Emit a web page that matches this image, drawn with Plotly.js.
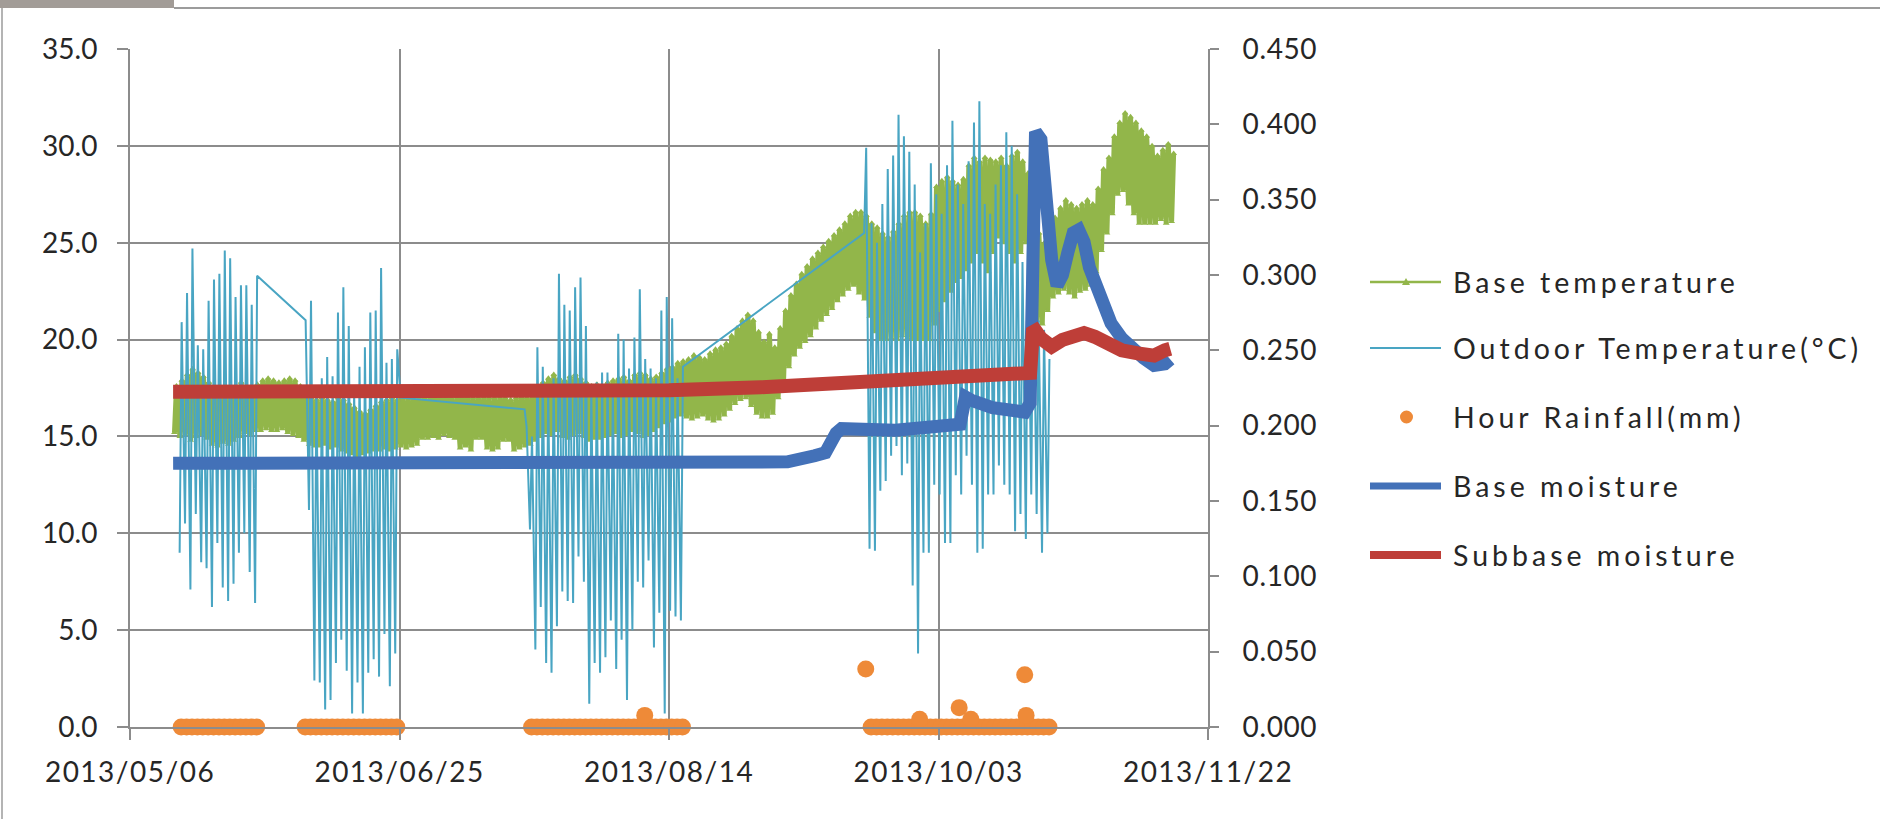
<!DOCTYPE html>
<html>
<head>
<meta charset="utf-8">
<script src="https://cdn.plot.ly/plotly-3.0.1.min.js"></script>
<style>
html,body{margin:0;padding:0;background:#fff;}
#chart{width:1880px;height:819px;}
.legtext text{letter-spacing:4px;}
#chart .xtick text{letter-spacing:1.5px;}
#chart .y2tick text{letter-spacing:0.6px;}
</style>
</head>
<body>
<div id="chart"></div>
<script>
// ---------------- Outdoor temperature (°C): daily min / max per logging period ----------------
const outP1Start = '2013-05-15';
const outP1Min = [9.0, 10.5, 7.1, 11.0, 8.5, 8.2, 6.2, 9.5, 7.2, 6.5, 7.4, 9.0, 10.0, 8.0, 6.4];
const outP1Max = [20.9, 22.4, 24.7, 19.7, 19.5, 22.0, 23.1, 23.4, 24.6, 24.2, 22.2, 22.8, 22.8, 21.8, 23.3];

const outP2Start = '2013-06-07';
const outP2Min = [null, 11.2, 2.4, 2.3, 0.9, 1.4, 3.3, 4.5, 2.9, 0.7, 2.3, 0.7, 2.8, 3.5, 2.6, 4.8, 2.1, 3.8, 17.0];
const outP2Max = [21.0, 22.0, 17.5, 18.0, 19.1, 18.1, 21.4, 22.7, 20.7, 17.5, 18.6, 19.6, 21.4, 21.5, 23.7, 18.8, 19.0, 19.5, null];

const outP3Start = '2013-07-18';
const outP3Min = [16.4, 10.2, 4.0, 6.2, 3.3, 2.8, 5.2, 7.0, 6.5, 6.4, 8.8, 7.5, 1.2, 3.3, 2.8, 3.6, 5.5, 3.0, 4.5, 1.4, 5.0, 7.5, 7.2, 8.6, 4.1, 5.9, 0.7, 6.0, 5.7, 5.5];
const outP3Max = [15.5, 15.0, 19.6, 18.6, 17.5, 18.0, 23.4, 21.8, 21.5, 22.7, 23.2, 20.7, 17.5, 17.8, 18.3, 18.3, 17.5, 20.3, 20.0, 18.5, 20.1, 22.6, 19.0, 18.5, 18.0, 21.5, 22.2, 21.1, 18.0, 18.6];

const outP4Start = '2013-09-19';
const outP4Min = [25.5, 9.2, 9.1, 12.2, 12.7, 14.0, 14.5, 13.0, 13.6, 7.3, 3.8, 9.0, 9.0, 12.5, 12.0, 9.5, 9.5, 13.0, 12.0, 14.0, 12.5, 9.0, 9.2, 12.0, 12.0, 13.5, 12.5, 12.0, 10.1, 11.0, 9.7, 12.0, 11.0, 9.0, 10.0];
const outP4Max = [29.9, 26.0, 25.0, 27.0, 28.8, 29.5, 31.6, 30.5, 29.7, 28.0, 24.5, 26.0, 29.1, 27.5, 26.5, 29.0, 31.3, 28.0, 27.0, 29.2, 31.2, 32.3, 27.0, 26.5, 28.0, 29.0, 30.7, 30.0, 27.5, 24.0, 25.0, 24.6, 21.0, 20.5, 19.0];

// ---------------- Base temperature (°C): daily min / max per month ----------------
const baseMayStart = '2013-05-14';
const baseMayMax = [17.6, 17.9, 18.2, 18.5, 18.3, 18.1, 17.8, 17.5, 17.4, 17.6, 17.3, 17.5, 17.8, 17.6, 17.5, 17.7, 17.9, 18.0];
const baseMayMin = [15.2, 15.0, 15.1, 14.8, 15.0, 15.1, 14.9, 14.6, 14.5, 14.7, 14.6, 14.8, 15.0, 15.2, 15.1, 15.3, 15.3, 15.4];
const baseJunStart = '2013-06-01';
const baseJunMax = [17.9, 17.8, 17.9, 18.0, 17.9, 17.6, 17.2, 17.0, 16.9, 17.0, 16.9, 16.8, 17.0, 16.9, 16.7, 16.5, 16.3, 16.2, 16.4, 16.6, 16.8, 16.9, 17.0, 16.9, 17.0, 17.0, 17.0, 17.1, 17.0, 17.1];
const baseJunMin = [15.3, 15.3, 15.4, 15.2, 15.1, 15.0, 14.8, 14.6, 14.5, 14.5, 14.6, 14.4, 14.5, 14.3, 14.2, 14.1, 14.0, 14.1, 14.2, 14.3, 14.3, 14.4, 14.3, 14.4, 14.5, 14.4, 14.5, 14.6, 14.9, 14.9];
const baseJulStart = '2013-07-01';
const baseJulMax = [17.2, 17.1, 17.2, 17.0, 17.1, 17.2, 17.1, 17.0, 17.0, 17.1, 17.0, 17.0, 17.1, 17.0, 16.9, 17.0, 17.1, 17.0, 17.2, 17.5, 17.8, 18.0, 18.2, 18.0, 17.9, 18.1, 18.2, 18.0, 17.8, 17.6, 17.7];
const baseJulMin = [15.0, 14.9, 15.1, 15.0, 14.9, 14.4, 14.5, 14.3, 14.9, 14.9, 14.4, 14.3, 14.4, 14.8, 14.8, 14.3, 14.4, 14.5, 14.6, 14.8, 15.0, 15.2, 15.1, 15.3, 15.0, 14.9, 15.1, 15.2, 15.0, 14.8, 14.9];
const baseAugStart = '2013-08-01';
const baseAugMax = [17.6, 17.8, 17.9, 18.0, 18.1, 17.9, 18.2, 18.3, 18.2, 18.0, 18.1, 18.3, 18.5, 18.6, 18.8, 18.9, 19.0, 19.2, 19.1, 19.0, 19.3, 19.5, 19.6, 19.8, 20.2, 20.6, 21.0, 21.3, 21.0, 20.4, 19.9];
const baseAugMin = [14.9, 15.0, 15.1, 15.2, 15.0, 15.1, 15.3, 15.2, 15.0, 15.1, 15.3, 15.5, 15.7, 15.8, 16.0, 16.1, 16.0, 15.9, 16.0, 16.1, 15.9, 15.8, 15.9, 16.1, 16.4, 16.7, 16.9, 17.0, 16.6, 16.2, 16.0];
const baseSepStart = '2013-09-01';
const baseSepMax = [20.3, 19.6, 20.6, 21.5, 22.3, 22.9, 23.4, 23.8, 24.2, 24.5, 24.8, 25.1, 25.4, 25.7, 26.0, 26.4, 26.6, 26.6, 26.4, 26.0, 25.8, 25.5, 25.3, 25.6, 26.0, 26.4, 26.6, 26.6, 26.4, 26.0];
const baseSepMin = [16.0, 16.2, 17.0, 17.8, 18.6, 19.2, 19.6, 19.9, 20.2, 20.6, 21.0, 21.3, 21.6, 22.0, 22.3, 22.6, 22.8, 22.4, 22.1, 21.2, 20.4, 20.0, 20.0, 20.1, 20.0, 20.2, 20.1, 20.0, 20.0, 20.0];
const baseOctStart = '2013-10-01';
const baseOctMax = [26.5, 27.9, 28.2, 28.4, 28.2, 28.0, 28.3, 29.0, 29.4, 29.2, 29.4, 29.3, 29.2, 29.4, 29.0, 29.5, 29.7, 29.2, 28.6, 27.5, 25.5, 25.0, 24.8, 26.3, 26.8, 27.2, 27.0, 26.8, 27.0, 27.2, 27.0];
const baseOctMin = [20.0, 20.8, 21.5, 22.0, 22.5, 23.0, 23.2, 23.6, 24.0, 24.5, 24.0, 23.5, 24.5, 25.3, 25.0, 24.5, 24.0, 24.5, 25.0, 23.8, 21.0, 20.8, 21.5, 22.2, 22.4, 22.6, 22.4, 22.2, 22.5, 22.6, 22.8];
const baseNovStart = '2013-11-01';
const baseNovMax = [27.8, 28.8, 29.4, 30.5, 31.2, 31.7, 31.5, 31.2, 30.8, 30.5, 30.0, 29.5, 29.8, 30.1, 29.6];
const baseNovMin = [23.5, 24.6, 25.5, 26.5, 27.5, 27.7, 27.0, 26.5, 26.0, 26.0, 26.0, 26.0, 26.2, 26.0, 26.1];

// ---------------- Hour rainfall (mm): daily readings per period + isolated events ----------------
const rainP1Start = '2013-05-15';
const rainP1 = [0,0,0,0,0,0,0,0,0,0,0,0,0,0,0];
const rainP2Start = '2013-06-07';
const rainP2 = [0,0,0,0,0,0,0,0,0,0,0,0,0,0,0,0,0,0];
const rainP3Start = '2013-07-19';
const rainP3 = [0,0,0,0,0,0,0,0,0,0,0,0,0,0,0,0,0,0,0,0,0,0,0,0,0,0,0,0,0];
const rainP4Start = '2013-09-20';
const rainP4 = [0,0,0,0,0,0,0,0,0,0,0,0,0,0,0,0,0,0,0,0,0,0,0,0,0,0,0,0,0,0,0,0,0,0];
const rainEventDates = ['2013-08-09 12:00', '2013-09-19 12:00', '2013-09-29 12:00', '2013-10-06 20:00', '2013-10-09 00:00', '2013-10-19 00:00', '2013-10-19 06:00'];
const rainEventValues = [0.6, 3.0, 0.4, 1.0, 0.4, 2.7, 0.6];

// ---------------- Moisture (right axis) ----------------
const baseMoistDates = ['2013-05-14','2013-06-15','2013-07-15','2013-08-20','2013-08-31','2013-09-05','2013-09-10','2013-09-12','2013-09-14','2013-09-15','2013-09-25','2013-10-05','2013-10-07','2013-10-08','2013-10-09','2013-10-13','2013-10-19','2013-10-20 00:00','2013-10-20 08:00','2013-10-20 14:00','2013-10-21','2013-10-22','2013-10-23','2013-10-24','2013-10-25','2013-10-26','2013-10-27','2013-10-28','2013-10-29','2013-10-30','2013-10-31','2013-11-02','2013-11-04','2013-11-06','2013-11-08','2013-11-10','2013-11-12','2013-11-14','2013-11-15'];
const baseMoistValues = [0.175,0.175,0.1755,0.176,0.177,0.176,0.180,0.182,0.195,0.198,0.197,0.199,0.201,0.219,0.217,0.212,0.209,0.215,0.30,0.392,0.395,0.390,0.345,0.310,0.293,0.300,0.315,0.328,0.330,0.322,0.305,0.285,0.268,0.258,0.250,0.245,0.240,0.241,0.244];

const subMoistDates = ['2013-05-14','2013-06-15','2013-07-15','2013-08-14','2013-08-31','2013-09-15','2013-09-20','2013-10-01','2013-10-10','2013-10-19','2013-10-20 00:00','2013-10-20 12:00','2013-10-21','2013-10-22','2013-10-24','2013-10-26','2013-10-28','2013-10-30','2013-11-01','2013-11-03','2013-11-06','2013-11-09','2013-11-12','2013-11-14','2013-11-15'];
const subMoistValues = [0.2225,0.2225,0.2228,0.2235,0.2255,0.2285,0.2300,0.2310,0.2325,0.2345,0.235,0.262,0.263,0.258,0.2525,0.257,0.260,0.2615,0.259,0.255,0.250,0.248,0.2465,0.250,0.251];

// ---------------- Axis tick labels ----------------
const xTickVals = ['2013-05-06','2013-06-25','2013-08-14','2013-10-03','2013-11-22'];
const xTickText = ['2013/05/06','2013/06/25','2013/08/14','2013/10/03','2013/11/22'];

// ---------------- Legend labels ----------------
const legendLabels = ['Base temperature','Outdoor Temperature(°C)','Hour Rainfall(mm)','Base moisture','Subbase moisture'];

// colours
const cGreen = '#92B64A', cTeal = '#49A5C3', cOrange = '#EE8A38', cBlue = '#4371B8', cRed = '#BE3E38';

// ---------------- helpers ----------------
function dayStr(start, n, hour) {
  const d = new Date(start + 'T00:00:00Z');
  d.setUTCDate(d.getUTCDate() + n);
  return d.toISOString().slice(0, 10) + ' ' + String(hour).padStart(2, '0') + ':00';
}
function zigzag(parts, hMin, hMax) {
  const x = [], y = [];
  parts.forEach(([start, mins, maxs]) => {
    for (let i = 0; i < mins.length; i++) {
      if (mins[i] !== null) { x.push(dayStr(start, i, hMin)); y.push(mins[i]); }
      if (maxs[i] !== null) { x.push(dayStr(start, i, hMax)); y.push(maxs[i]); }
    }
  });
  return {x, y};
}
function daily(parts, hour) {
  const x = [], y = [];
  parts.forEach(([start, vals]) => vals.forEach((v, i) => { x.push(dayStr(start, i, hour)); y.push(v); }));
  return {x, y};
}

const outdoor = zigzag([[outP1Start, outP1Min, outP1Max], [outP2Start, outP2Min, outP2Max], [outP3Start, outP3Min, outP3Max], [outP4Start, outP4Min, outP4Max]], 5, 14);
const baseT = zigzag([[baseMayStart, baseMayMin, baseMayMax], [baseJunStart, baseJunMin, baseJunMax], [baseJulStart, baseJulMin, baseJulMax], [baseAugStart, baseAugMin, baseAugMax], [baseSepStart, baseSepMin, baseSepMax], [baseOctStart, baseOctMin, baseOctMax], [baseNovStart, baseNovMin, baseNovMax]], 6, 15);
const rainDaily = daily([[rainP1Start, rainP1], [rainP2Start, rainP2], [rainP3Start, rainP3], [rainP4Start, rainP4]], 12);
const rainX = rainDaily.x.concat(rainEventDates);
const rainY = rainDaily.y.concat(rainEventValues);

const traces = [
  {name: legendLabels[0], x: baseT.x, y: baseT.y, type: 'scatter', mode: 'lines+markers',
   line: {color: cGreen, width: 5}, marker: {symbol: 'triangle-up', size: 6, color: cGreen}, showlegend: false, yaxis: 'y'},
  {name: legendLabels[1], x: outdoor.x, y: outdoor.y, type: 'scatter', mode: 'lines',
   line: {color: cTeal, width: 2}, showlegend: false, yaxis: 'y'},
  {name: legendLabels[2], x: rainX, y: rainY, type: 'scatter', mode: 'markers',
   marker: {color: cOrange, size: 17, line: {width: 0}}, showlegend: false, yaxis: 'y', cliponaxis: false},
  {name: legendLabels[3], x: baseMoistDates, y: baseMoistValues, type: 'scatter', mode: 'lines',
   line: {color: cBlue, width: 13}, showlegend: false, yaxis: 'y2'},
  {name: legendLabels[4], x: subMoistDates, y: subMoistValues, type: 'scatter', mode: 'lines',
   line: {color: cRed, width: 14}, showlegend: false, yaxis: 'y2'}
];

// pixel -> paper helpers (plot area: x 130..1208, y 49..727)
const PL = 130, PR = 1208, PT = 49, PB = 727;
const px = v => (v - PL) / (PR - PL);
const py = v => (PB - v) / (PB - PT);

const legY = [282, 348, 417, 486, 555];
const legStyle = [
  {color: cGreen, width: 2.5},
  {color: cTeal, width: 2},
  null,
  {color: cBlue, width: 7},
  {color: cRed, width: 8}
];
const shapes = [
  // screenshot frame
  {type: 'rect', xref: 'paper', yref: 'paper', x0: px(0), x1: px(174), y0: py(8), y1: py(-2), fillcolor: '#a29c97', line: {width: 0}},
  {type: 'line', xref: 'paper', yref: 'paper', x0: px(174), x1: px(1882), y0: py(8), y1: py(8), line: {color: '#9c9c9c', width: 2}},
  {type: 'line', xref: 'paper', yref: 'paper', x0: px(2), x1: px(2), y0: py(8), y1: py(821), line: {color: '#b4b4b4', width: 2}}
];
legStyle.forEach((s, i) => {
  if (s) shapes.push({type: 'line', xref: 'paper', yref: 'paper', x0: px(1370), x1: px(1441), y0: py(legY[i]), y1: py(legY[i]), line: s});
});
// small marker on base temperature legend line
shapes.push({type: 'path', xref: 'paper', yref: 'paper',
  path: `M ${px(1402)} ${py(legY[0] + 3)} L ${px(1410)} ${py(legY[0] + 3)} L ${px(1406)} ${py(legY[0] - 4)} Z`,
  fillcolor: cGreen, line: {width: 0}});
// rainfall dot
shapes.push({type: 'circle', xref: 'paper', yref: 'paper', x0: px(1400), x1: px(1413), y0: py(legY[2] + 6.5), y1: py(legY[2] - 6.5), fillcolor: cOrange, line: {width: 0}});

const annotations = legendLabels.map((t, i) => ({
  text: t, xref: 'paper', yref: 'paper', x: px(1451), y: py(legY[i]), xanchor: 'left', yanchor: 'middle', align: 'left',
  showarrow: false, font: {family: 'Lato, sans-serif', size: 28.5, color: '#262626'}, captureevents: false
}));

const axisCol = '#8c8c8c';
const layout = {
  width: 1880, height: 819,
  margin: {l: PL, r: 1880 - PR, t: PT, b: 819 - PB, pad: 0},
  paper_bgcolor: '#ffffff', plot_bgcolor: '#ffffff',
  font: {family: 'Lato, sans-serif', size: 28, color: '#262626'},
  showlegend: false,
  xaxis: {type: 'date', range: ['2013-05-06', '2013-11-22'], tickmode: 'array', tickvals: xTickVals, ticktext: xTickText,
    showgrid: true, gridcolor: axisCol, gridwidth: 2, showline: true, linecolor: axisCol, linewidth: 2,
    ticks: 'outside', ticklen: 11, tickwidth: 2, tickcolor: axisCol, zeroline: false, ticklabelstandoff: 8},
  yaxis: {range: [0, 35], tickmode: 'linear', tick0: 0, dtick: 5, tickformat: '.1f',
    showgrid: true, gridcolor: axisCol, gridwidth: 2, showline: true, linecolor: axisCol, linewidth: 2,
    ticks: 'outside', ticklen: 11, tickwidth: 2, tickcolor: axisCol, zeroline: false, ticklabelstandoff: 14},
  yaxis2: {overlaying: 'y', side: 'right', range: [0, 0.45], tickmode: 'linear', tick0: 0, dtick: 0.05, tickformat: '.3f',
    showgrid: false, showline: true, linecolor: axisCol, linewidth: 2,
    ticks: 'outside', ticklen: 9, tickwidth: 2, tickcolor: axisCol, zeroline: false, ticklabelstandoff: 18},
  shapes: shapes,
  annotations: annotations
};

Plotly.newPlot('chart', traces, layout, {displayModeBar: false, staticPlot: true}).then(() => {
  document.querySelectorAll('#chart .annotation').forEach(a => a.classList.add('legtext'));
});
</script>
</body>
</html>
